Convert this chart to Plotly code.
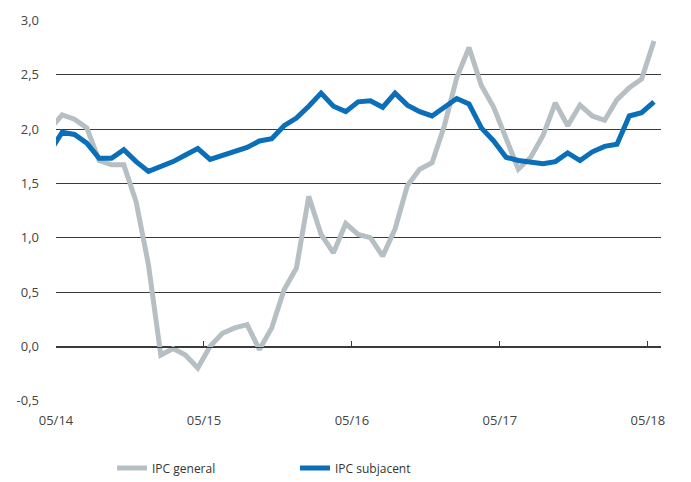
import plotly.graph_objects as go

months = ["04/14", "05/14", "06/14", "07/14", "08/14", "09/14", "10/14", "11/14", "12/14",
          "01/15", "02/15", "03/15", "04/15", "05/15", "06/15", "07/15", "08/15", "09/15",
          "10/15", "11/15", "12/15", "01/16", "02/16", "03/16", "04/16", "05/16", "06/16",
          "07/16", "08/16", "09/16", "10/16", "11/16", "12/16", "01/17", "02/17", "03/17",
          "04/17", "05/17", "06/17", "07/17", "08/17", "09/17", "10/17", "11/17", "12/17",
          "01/18", "02/18", "03/18", "04/18", "05/18"]

ipc_general = [2.00, 2.13, 2.09, 2.01, 1.71, 1.67, 1.67, 1.33, 0.75, -0.08,
               -0.02, -0.08, -0.20, 0.00, 0.12, 0.17, 0.20, -0.03, 0.17, 0.52,
               0.72, 1.38, 1.03, 0.86, 1.13, 1.03, 1.00, 0.83, 1.08, 1.48,
               1.63, 1.69, 2.03, 2.47, 2.75, 2.40, 2.20, 1.90, 1.63, 1.74,
               1.94, 2.24, 2.03, 2.22, 2.12, 2.08, 2.27, 2.38, 2.46, 2.81]

ipc_subjacent = [1.79, 1.97, 1.95, 1.87, 1.73, 1.73, 1.81, 1.70, 1.61, 1.65,
                 1.70, 1.76, 1.82, 1.72, 1.76, 1.80, 1.83, 1.89, 1.91, 2.03,
                 2.10, 2.21, 2.33, 2.21, 2.16, 2.25, 2.26, 2.20, 2.33, 2.22,
                 2.16, 2.12, 2.20, 2.28, 2.23, 2.01, 1.89, 1.74, 1.71, 1.69,
                 1.68, 1.70, 1.78, 1.71, 1.79, 1.84, 1.86, 2.12, 2.15, 2.25]

tick_labels = ["05/14", "05/15", "05/16", "05/17", "05/18"]
y_ticks = [-0.5, 0.0, 0.5, 1.0, 1.5, 2.0, 2.5, 3.0]
y_tick_text = ["-0,5", "0,0", "0,5", "1,0", "1,5", "2,0", "2,5", "3,0"]

x = list(range(len(months)))
tick_pos = [months.index(t) - 0.5 for t in tick_labels]

FONT = "Open Sans"
GRID = "#3a3a3a"
TXT = "#444444"

fig = go.Figure()
fig.add_trace(go.Scatter(x=x, y=ipc_general, mode="lines", name="IPC general",
                         line=dict(color="#b6bfc3", width=5)))
fig.add_trace(go.Scatter(x=x, y=ipc_subjacent, mode="lines", name="IPC subjacent",
                         line=dict(color="#0a6fb8", width=5)))
# helper trace for the zero-line axis carrying the tick marks
fig.add_trace(go.Scatter(x=[x[0]], y=[0], xaxis="x2", mode="lines",
                         line=dict(width=0), showlegend=False, hoverinfo="skip"))

xr = [tick_pos[0], len(months) - 1 + 0.57]
fig.update_layout(
    width=691, height=482,
    margin=dict(l=56, r=30, t=20, b=81, autoexpand=False),
    paper_bgcolor="white", plot_bgcolor="white",
    font=dict(family=FONT, size=13, color=TXT),
    xaxis=dict(range=xr, tickvals=tick_pos, ticktext=tick_labels,
               showgrid=False, zeroline=False, showline=False, ticks="",
               ticklabelstandoff=10, tickfont=dict(size=13, color=TXT)),
    xaxis2=dict(range=xr, overlaying="x", anchor="free", position=0.5 / 3.5,
                tickvals=tick_pos, showticklabels=False, showgrid=False,
                zeroline=False, showline=True, linecolor=GRID, linewidth=1,
                ticks="inside", ticklen=6, tickcolor=GRID, tickwidth=1),
    yaxis=dict(range=[-0.503, 3.003], tickvals=y_ticks, ticktext=y_tick_text,
               showgrid=True, gridcolor=GRID, gridwidth=1, zeroline=False,
               showline=False, ticks="", ticklabelstandoff=16,
               tickfont=dict(size=13, color=TXT)),
    legend=dict(orientation="h", x=0.0926, xanchor="left", y=-0.176, yanchor="middle",
                font=dict(size=12, color="#333333"), entrywidth=138,
                entrywidthmode="pixels", bgcolor="rgba(0,0,0,0)"),
    showlegend=True,
)

fig.write_html("out.html")
